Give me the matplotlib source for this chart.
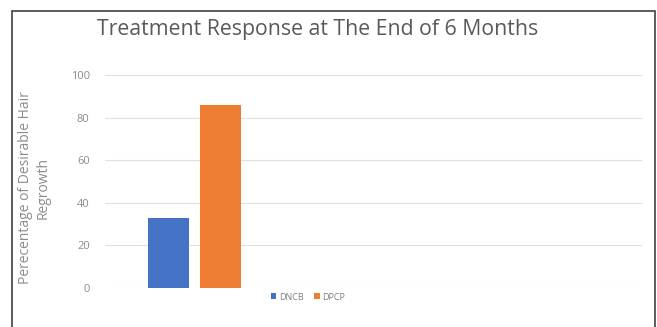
import matplotlib
matplotlib.use("Agg")
import matplotlib.pyplot as plt
from matplotlib.patches import Rectangle
import numpy as np

categories = ["", "", ""]
dncb = [33, np.nan, np.nan]
dpcp = [86, np.nan, np.nan]
series_names = ["DNCB", "DPCP"]
yticks = [0, 20, 40, 60, 80, 100]
title = "Treatment Response at The End of 6 Months"
ylabel = "Perecentage of Desirable Hair\nRegrowth"

plt.rcParams['font.family'] = ['Open Sans', 'DejaVu Sans']

W, H = 657, 327
fig = plt.figure(figsize=(W / 100, H / 100), dpi=100)
fig.patch.set_facecolor("white")

ax = fig.add_axes([105 / W, 1 - 288 / H, (642 - 105) / W, (288 - 75) / H])
x = np.arange(len(categories))
bw = 0.23
off = 0.146
ax.bar(x - off, dncb, bw, color="#4472C4", label=series_names[0], zorder=3)
ax.bar(x + off, dpcp, bw, color="#ED7D31", label=series_names[1], zorder=3)
ax.set_xlim(-0.5, len(categories) - 0.5)
ax.set_ylim(0, 100)
ax.set_yticks(yticks)
ax.set_yticklabels([str(v) for v in yticks])
ax.set_xticks([])
ax.grid(axis="y", color="#e0e0e0", linewidth=0.8, zorder=0)
for s in ax.spines.values():
    s.set_visible(False)
ax.tick_params(axis="y", length=0, labelsize=8, labelcolor="#8c8c8c", pad=11)

fig.text(318 / W, 1 - 30 / H, title, ha="center", va="center",
         fontsize=15.3, color="#595959")
fig.text(34 / W, 1 - 188 / H, ylabel, rotation=90, ha="center", va="center",
         fontsize=10, color="#8c8c8c", multialignment="center",
         linespacing=1.25)

fig.legend(loc="center", bbox_to_anchor=(308 / W, 1 - 297 / H), ncol=2,
           frameon=False, fontsize=6.5, labelcolor="#7f7f7f",
           handlelength=0.6, handleheight=0.6, handletextpad=0.3,
           columnspacing=1.2)

fig.add_artist(Rectangle((12 / W, -0.02), (655 - 12) / W, (1 - 11 / H) + 0.02,
                         transform=fig.transFigure, fill=False,
                         edgecolor="#404040", linewidth=1.2))

fig.savefig("out.png", dpi=100)
